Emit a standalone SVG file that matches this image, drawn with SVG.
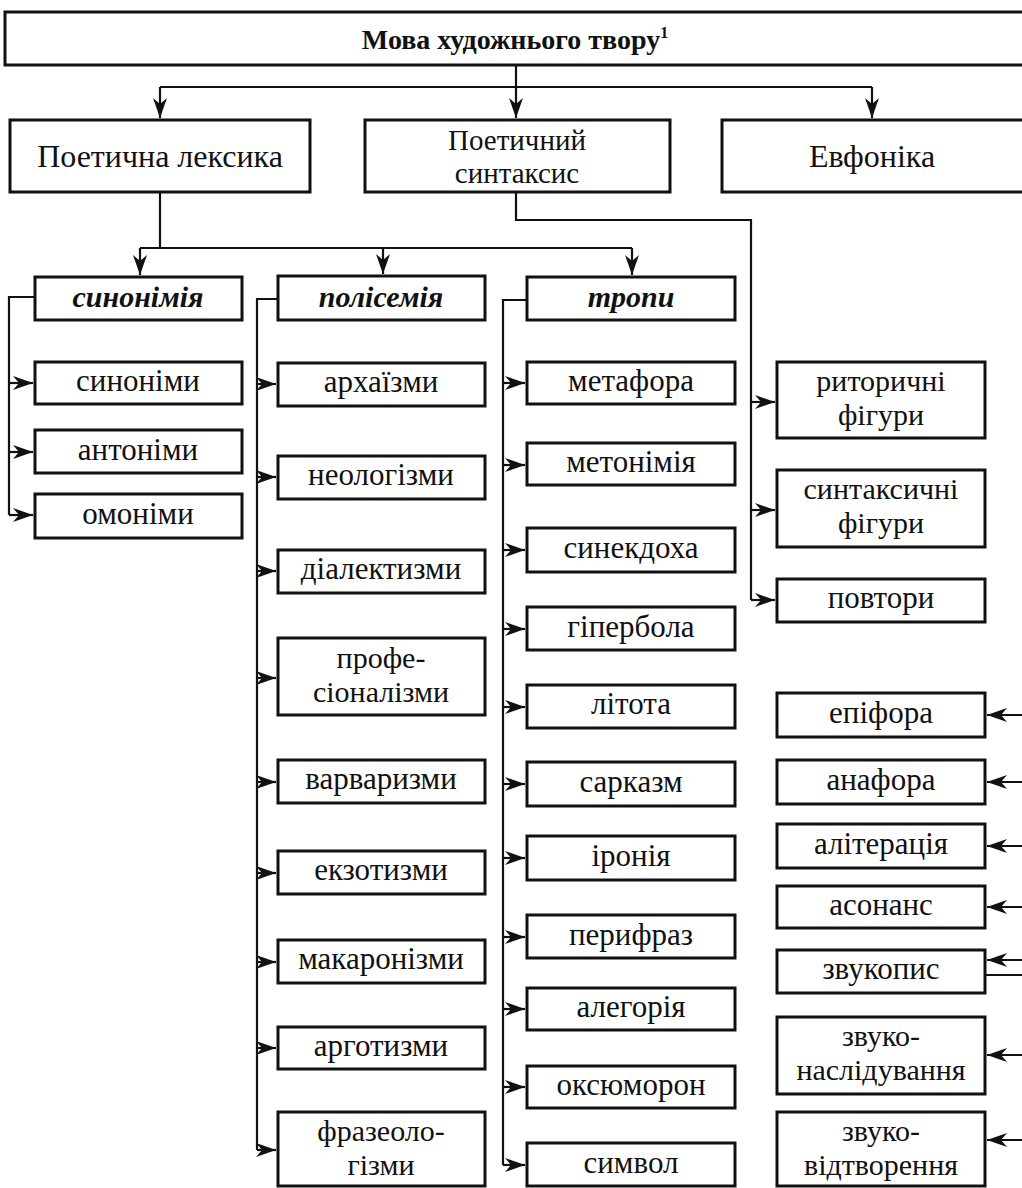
<svg xmlns="http://www.w3.org/2000/svg" width="1022" height="1188" viewBox="0 0 1022 1188">
<style>
.box{fill:#fff;stroke:#111;stroke-width:3}
.t{font-family:"Liberation Serif","DejaVu Serif",serif;font-size:31px;fill:#111;text-anchor:middle}
.h{font-size:32px}
.m{font-size:30px}
.h2{font-size:29px}
.bi{font-weight:bold;font-style:italic;font-size:30px}
.title{font-weight:bold;font-size:28px}
.c{fill:none;stroke:#111;stroke-width:2.2}
</style>
<defs>
<marker id="a" markerUnits="userSpaceOnUse" markerWidth="22" markerHeight="16" refX="20" refY="7" orient="auto">
<path d="M0,0 L20,7 L0,14 L6,7 z" fill="#111"/>
</marker>
</defs>
<rect width="1022" height="1188" fill="#fff"/>
<g id="connectors">
<path class="c" d="M516,65 V118" marker-end="url(#a)"/>
<path class="c" d="M160,87 H872"/>
<path class="c" d="M160,87 V118" marker-end="url(#a)"/>
<path class="c" d="M872,87 V118" marker-end="url(#a)"/>
<path class="c" d="M160,192 V248"/>
<path class="c" d="M140,248 H632"/>
<path class="c" d="M140,248 V275" marker-end="url(#a)"/>
<path class="c" d="M383,248 V274" marker-end="url(#a)"/>
<path class="c" d="M632,248 V275" marker-end="url(#a)"/>
<path class="c" d="M516,192 V220 H751 V600"/>
<path class="c" d="M751,402 H775" marker-end="url(#a)"/>
<path class="c" d="M751,510 H775" marker-end="url(#a)"/>
<path class="c" d="M751,600 H775" marker-end="url(#a)"/>
<path class="c" d="M35,297 H9 V515"/>
<path class="c" d="M9,383 H33" marker-end="url(#a)"/>
<path class="c" d="M9,452 H33" marker-end="url(#a)"/>
<path class="c" d="M9,515 H33" marker-end="url(#a)"/>
<path class="c" d="M278,299 H257 V1150"/>
<path class="c" d="M257,384 H276" marker-end="url(#a)"/>
<path class="c" d="M257,477 H276" marker-end="url(#a)"/>
<path class="c" d="M257,571 H276" marker-end="url(#a)"/>
<path class="c" d="M257,678 H276" marker-end="url(#a)"/>
<path class="c" d="M257,782 H276" marker-end="url(#a)"/>
<path class="c" d="M257,873 H276" marker-end="url(#a)"/>
<path class="c" d="M257,962 H276" marker-end="url(#a)"/>
<path class="c" d="M257,1048 H276" marker-end="url(#a)"/>
<path class="c" d="M257,1150 H276" marker-end="url(#a)"/>
<path class="c" d="M527,300 H503 V1165"/>
<path class="c" d="M503,383 H525" marker-end="url(#a)"/>
<path class="c" d="M503,465 H525" marker-end="url(#a)"/>
<path class="c" d="M503,550 H525" marker-end="url(#a)"/>
<path class="c" d="M503,629 H525" marker-end="url(#a)"/>
<path class="c" d="M503,707 H525" marker-end="url(#a)"/>
<path class="c" d="M503,784 H525" marker-end="url(#a)"/>
<path class="c" d="M503,858 H525" marker-end="url(#a)"/>
<path class="c" d="M503,937 H525" marker-end="url(#a)"/>
<path class="c" d="M503,1009 H525" marker-end="url(#a)"/>
<path class="c" d="M503,1087 H525" marker-end="url(#a)"/>
<path class="c" d="M503,1165 H525" marker-end="url(#a)"/>
<path class="c" d="M1022,715 H987" marker-end="url(#a)"/>
<path class="c" d="M1022,782 H987" marker-end="url(#a)"/>
<path class="c" d="M1022,846 H987" marker-end="url(#a)"/>
<path class="c" d="M1022,907 H987" marker-end="url(#a)"/>
<path class="c" d="M1022,960 H987" marker-end="url(#a)"/>
<path class="c" d="M985,975 H1022"/>
<path class="c" d="M1022,1055 H987" marker-end="url(#a)"/>
<path class="c" d="M1022,1140 H987" marker-end="url(#a)"/>
</g>
<g id="n-root"><rect class="box" x="5" y="12" width="1030" height="53"/><text class="t title" x="515" y="49">Мова художнього твору<tspan font-size="16" dy="-11">1</tspan></text></g>
<g id="n-lex"><rect class="box" x="10" y="120" width="300" height="72"/><text class="t h" x="160" y="167">Поетична лексика</text></g>
<g id="n-syn"><rect class="box" x="365" y="120" width="305" height="72"/><text class="t h2" x="517" y="150">Поетичний</text><text class="t h2" x="517" y="183">синтаксис</text></g>
<g id="n-euph"><rect class="box" x="722" y="120" width="320" height="72"/><text class="t h" x="872" y="167">Евфоніка</text></g>

<g id="n-synonymia"><rect class="box" x="35" y="277" width="207" height="43"/><text class="t bi" x="138" y="307">синонімія</text></g>
<g id="n-synonimy"><rect class="box" x="35" y="362" width="207" height="42"/><text class="t" x="138" y="391">синоніми</text></g>
<g id="n-antonimy"><rect class="box" x="35" y="430" width="207" height="43"/><text class="t" x="138" y="460">антоніми</text></g>
<g id="n-omonimy"><rect class="box" x="35" y="494" width="207" height="44"/><text class="t" x="138" y="524">омоніми</text></g>

<g id="n-polisemia"><rect class="box" x="278" y="276" width="207" height="44"/><text class="t bi" x="381" y="307">полісемія</text></g>
<g id="n-arch"><rect class="box" x="278" y="363" width="207" height="43"/><text class="t" x="381" y="392">архаїзми</text></g>
<g id="n-neol"><rect class="box" x="278" y="456" width="207" height="43"/><text class="t" x="381" y="485">неологізми</text></g>
<g id="n-dial"><rect class="box" x="278" y="550" width="207" height="43"/><text class="t" x="381" y="579">діалектизми</text></g>
<g id="n-prof"><rect class="box" x="278" y="638" width="207" height="77"/><text class="t m" x="381" y="668">профе-</text><text class="t m" x="381" y="702">сіоналізми</text></g>
<g id="n-varv"><rect class="box" x="278" y="760" width="207" height="43"/><text class="t" x="381" y="789">варваризми</text></g>
<g id="n-ekz"><rect class="box" x="278" y="851" width="207" height="43"/><text class="t" x="381" y="880">екзотизми</text></g>
<g id="n-mak"><rect class="box" x="278" y="940" width="207" height="43"/><text class="t" x="381" y="969">макаронізми</text></g>
<g id="n-arg"><rect class="box" x="278" y="1027" width="207" height="42"/><text class="t" x="381" y="1056">арготизми</text></g>
<g id="n-fraz"><rect class="box" x="278" y="1112" width="207" height="74"/><text class="t m" x="381" y="1141">фразеоло-</text><text class="t m" x="381" y="1175">гізми</text></g>

<g id="n-tropy"><rect class="box" x="527" y="277" width="208" height="43"/><text class="t bi" x="631" y="307">тропи</text></g>
<g id="n-metafora"><rect class="box" x="527" y="362" width="208" height="42"/><text class="t" x="631" y="391">метафора</text></g>
<g id="n-metonimia"><rect class="box" x="527" y="443" width="208" height="42"/><text class="t" x="631" y="472">метонімія</text></g>
<g id="n-synekdoha"><rect class="box" x="527" y="528" width="208" height="44"/><text class="t" x="631" y="558">синекдоха</text></g>
<g id="n-hiperbola"><rect class="box" x="527" y="607" width="208" height="43"/><text class="t" x="631" y="637">гіпербола</text></g>
<g id="n-lytota"><rect class="box" x="527" y="685" width="208" height="43"/><text class="t" x="631" y="714">літота</text></g>
<g id="n-sarkazm"><rect class="box" x="527" y="762" width="208" height="44"/><text class="t" x="631" y="792">сарказм</text></g>
<g id="n-ironia"><rect class="box" x="527" y="836" width="208" height="44"/><text class="t" x="631" y="866">іронія</text></g>
<g id="n-peryfraz"><rect class="box" x="527" y="915" width="208" height="43"/><text class="t" x="631" y="945">перифраз</text></g>
<g id="n-alegoria"><rect class="box" x="527" y="988" width="208" height="42"/><text class="t" x="631" y="1017">алегорія</text></g>
<g id="n-oksumoron"><rect class="box" x="527" y="1066" width="208" height="42"/><text class="t" x="631" y="1095">оксюморон</text></g>
<g id="n-symvol"><rect class="box" x="527" y="1143" width="208" height="43"/><text class="t" x="631" y="1173">символ</text></g>

<g id="n-rytor"><rect class="box" x="777" y="362" width="208" height="76"/><text class="t m" x="881" y="391">риторичні</text><text class="t m" x="881" y="425">фігури</text></g>
<g id="n-syntfig"><rect class="box" x="777" y="470" width="208" height="77"/><text class="t m" x="881" y="499">синтаксичні</text><text class="t m" x="881" y="533">фігури</text></g>
<g id="n-povtory"><rect class="box" x="777" y="579" width="208" height="43"/><text class="t" x="881" y="608">повтори</text></g>
<g id="n-epifora"><rect class="box" x="777" y="693" width="208" height="44"/><text class="t" x="881" y="723">епіфора</text></g>
<g id="n-anafora"><rect class="box" x="777" y="760" width="208" height="44"/><text class="t" x="881" y="790">анафора</text></g>
<g id="n-aliter"><rect class="box" x="777" y="824" width="208" height="44"/><text class="t" x="881" y="854">алітерація</text></g>
<g id="n-asonans"><rect class="box" x="777" y="886" width="208" height="42"/><text class="t" x="881" y="915">асонанс</text></g>
<g id="n-zvukopys"><rect class="box" x="777" y="950" width="208" height="43"/><text class="t" x="881" y="979">звукопис</text></g>
<g id="n-zvukonasl"><rect class="box" x="777" y="1017" width="208" height="77"/><text class="t m" x="881" y="1046">звуко-</text><text class="t m" x="881" y="1080">наслідування</text></g>
<g id="n-zvukovidt"><rect class="box" x="777" y="1112" width="208" height="74"/><text class="t m" x="881" y="1141">звуко-</text><text class="t m" x="881" y="1175">відтворення</text></g>
</svg>
